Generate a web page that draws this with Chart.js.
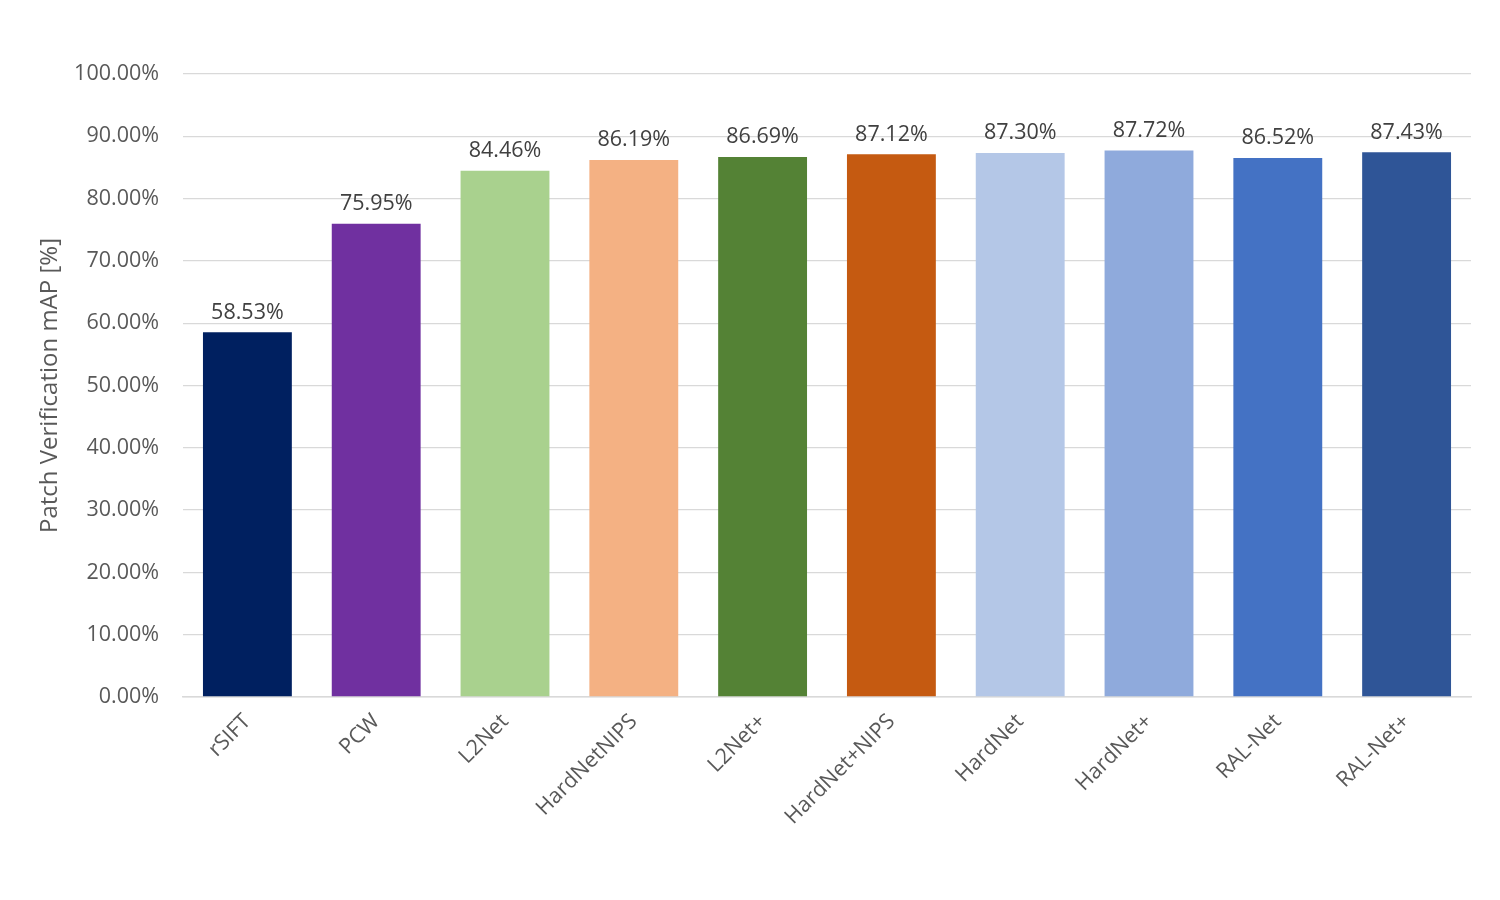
<!DOCTYPE html>
<html>
<head>
<meta charset="utf-8">
<script src="https://cdn.jsdelivr.net/npm/chart.js@4/dist/chart.umd.min.js"></script>
<style>
html,body{margin:0;padding:0;background:#fff;}
#wrap{width:1500px;height:900px;position:relative;}
</style>
</head>
<body>
<div id="wrap"><canvas id="c" width="1500" height="900"></canvas></div>
<script>
const categories = ["rSIFT","PCW","L2Net","HardNetNIPS","L2Net+","HardNet+NIPS","HardNet","HardNet+","RAL-Net","RAL-Net+"];
const mapValues = [58.53,75.95,84.46,86.19,86.69,87.12,87.30,87.72,86.52,87.43];
const barColors = ["#002060","#7030A0","#A9D18E","#F4B183","#548235","#C55A11","#B4C7E7","#8FAADC","#4472C4","#2F5597"];
const yTicks = [0,10,20,30,40,50,60,70,80,90,100];
const yTitle = "Patch Verification mAP [%]";

const FONT = "'Open Sans', 'Segoe UI', sans-serif";
const TXT = "#595959";

const labelPlugin = {
  id: 'valueLabels',
  afterDatasetsDraw(chart) {
    const ctx = chart.ctx;
    const meta = chart.getDatasetMeta(0);
    ctx.save();
    ctx.font = "21.5px " + FONT;
    ctx.fillStyle = "#404040";
    ctx.textAlign = "center";
    ctx.textBaseline = "bottom";
    meta.data.forEach((el, i) => {
      ctx.fillText(mapValues[i].toFixed(2) + "%", el.x, el.y - 9);
    });
    ctx.restore();
  }
};

new Chart(document.getElementById('c'), {
  type: 'bar',
  data: {
    labels: categories,
    datasets: [{
      data: mapValues,
      backgroundColor: barColors,
      borderWidth: 0,
      barPercentage: 0.69,
      categoryPercentage: 1.0
    }]
  },
  options: {
    responsive: false,
    animation: false,
    devicePixelRatio: 1,
    layout: { padding: { top: 74, right: 29, left: 0, bottom: 0 } },
    plugins: { legend: { display: false }, tooltip: { enabled: false } },
    scales: {
      y: {
        min: 0, max: 100,
        afterBuildTicks(scale) { scale.ticks = yTicks.map(v => ({ value: v })); },
        afterFit(scale) { scale.width = 183; },
        ticks: {
          color: TXT,
          font: { family: FONT, size: 21.5 },
          padding: 24,
          callback: v => v.toFixed(2) + "%"
        },
        grid: { color: "#d9d9d9", lineWidth: 1.3, drawTicks: false },
        border: { display: false },
        title: {
          display: true, text: yTitle, color: TXT,
          font: { family: FONT, size: 24 },
          padding: { top: 36, bottom: 0 }
        }
      },
      x: {
        afterFit(scale) { scale.height = 203; },
        ticks: {
          color: TXT,
          font: { family: FONT, size: 21.5 },
          maxRotation: 45, minRotation: 45,
          padding: 12,
          autoSkip: false
        },
        grid: { display: false, drawTicks: false },
        border: { display: true, color: "#d9d9d9", width: 1.5 }
      }
    }
  },
  plugins: [labelPlugin]
});
</script>
</body>
</html>
